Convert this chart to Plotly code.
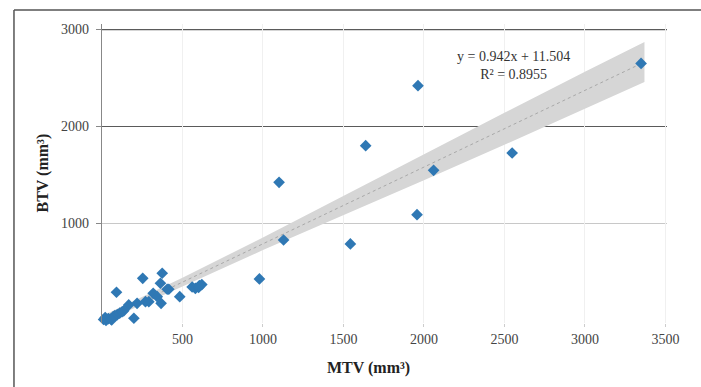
import plotly.graph_objects as go

# Data points (MTV, BTV)
mtv = [3349, 1963, 1638, 1100, 2060, 1957, 1128, 1543, 2548, 978,
       90, 253, 374, 363, 318, 415, 367, 483, 291, 198,
       166, 218, 270, 343, 405,
       560, 580, 600, 620, 605,
       10, 25, 40, 55, 70, 80, 95, 110, 125, 20, 60, 135]
btv = [2651, 2421, 1802, 1425, 1548, 1091, 830, 789, 1727, 428,
       291, 435, 487, 384, 280, 322, 177, 245, 194, 23,
       160, 177, 194, 245, 322,
       345, 330, 340, 370, 360,
       10, 0, 20, 15, 40, 50, 60, 75, 90, 30, 5, 100]

# Regression line and confidence band
fit_x = [0, 3370]
fit_y = [0, 2665]
band_x = [0, 500, 1000, 1500, 2000, 2500, 3000, 3370]
band_upper = [45, 440, 856, 1286, 1717, 2142, 2565, 2871]
band_lower = [-20, 350, 726, 1086, 1447, 1812, 2181, 2459]

x_ticks = [500, 1000, 1500, 2000, 2500, 3000, 3500]
y_ticks = [1000, 2000, 3000]
y_grid_colors = ["#c8c8c8", "#5a5a5a", "#5a5a5a"]

eq_text = "y = 0.942x + 11.504<br>R² = 0.8955"

serif = "Liberation Serif, Times New Roman, serif"

fig = go.Figure()
fig.add_trace(go.Scatter(
    x=band_x + band_x[::-1], y=band_upper + band_lower[::-1],
    fill="toself", fillcolor="#d6d6d6", line=dict(width=0),
    mode="lines", hoverinfo="skip", showlegend=False))
fig.add_trace(go.Scatter(
    x=fit_x, y=fit_y, mode="lines",
    line=dict(color="#a8a8a8", width=1, dash="dot"), showlegend=False))
fig.add_trace(go.Scatter(
    x=mtv, y=btv, mode="markers", cliponaxis=False,
    marker=dict(symbol="diamond", size=9, color="#2f78b4"),
    showlegend=False))

shapes = []
for g, c in zip(y_ticks, y_grid_colors):
    shapes.append(dict(type="line", xref="paper", x0=0, x1=1, yref="y", y0=g, y1=g,
                       line=dict(color=c, width=1.2), layer="below"))
# outer frame (left and top edges)
shapes.append(dict(type="line", xref="paper", yref="paper", x0=-0.1558, x1=-0.1558,
                   y0=-0.3, y1=1.0468, line=dict(color="#555", width=1.5)))
shapes.append(dict(type="line", xref="paper", yref="paper", x0=-0.1558, x1=1.1,
                   y0=1.0468, y1=1.0468, line=dict(color="#555", width=1.5)))

fig.update_layout(
    width=701, height=387,
    margin=dict(l=102, r=34, t=24, b=64),
    paper_bgcolor="white", plot_bgcolor="white",
    font=dict(family=serif, size=14, color="#444"),
    shapes=shapes,
    annotations=[
        dict(text=eq_text, xref="paper", yref="paper",
             x=(513 - 102) / 565, y=(323 - 65) / 299, showarrow=False,
             xanchor="center", yanchor="middle",
             font=dict(family=serif, size=14, color="#333"), align="center"),
        dict(text="<b>MTV (mm³)</b>", xref="paper", yref="paper",
             x=(368 - 102) / 565, y=(323 - 368) / 299, showarrow=False,
             xanchor="center", yanchor="middle",
             font=dict(family=serif, size=16, color="#222")),
        dict(text="<b>BTV (mm³)</b>", xref="paper", yref="paper",
             x=(42 - 102) / 565, y=0.5, showarrow=False, textangle=-90,
             xanchor="center", yanchor="middle",
             font=dict(family=serif, size=16, color="#222")),
    ],
)
fig.update_xaxes(range=[0, 3510], tickvals=x_ticks, showgrid=True, gridcolor="#f0f0f0",
                 zeroline=False, showline=False, ticks="outside", ticklen=3,
                 tickcolor="#cccccc")
fig.update_yaxes(range=[-26, 3057], tickvals=y_ticks, showgrid=False,
                 zeroline=False, showline=True, linecolor="#888", linewidth=1.2,
                 ticks="outside", ticklen=5, tickcolor="#888", ticklabelstandoff=4)

fig.write_html("out.html")
